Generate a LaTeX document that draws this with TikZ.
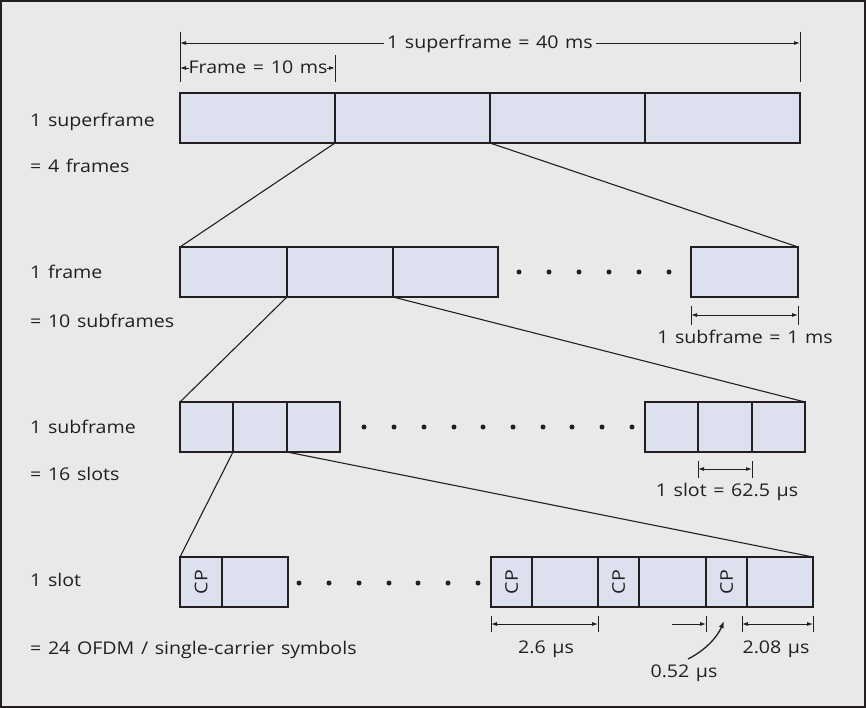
\documentclass[tikz,border=0pt]{standalone}
\usepackage{fontspec}
\setmainfont{Open Sans}[FakeStretch=1.12, WordSpace=1.3]
\usetikzlibrary{arrows.meta}
\definecolor{bgc}{HTML}{E9E9E9}
\definecolor{boxc}{HTML}{DDE1EF}
\definecolor{inkc}{HTML}{231F20}
\tikzset{
  box/.style={draw=inkc, fill=boxc, line width=1.3pt, inner sep=0pt, outer sep=0pt,
              anchor=north west, minimum height=50pt},
  lbl/.style={anchor=base west, inner sep=0pt, text=inkc, font=\fontsize{17.5}{20}\selectfont},
  ctxt/.style={anchor=base, inner sep=0pt, text=inkc, font=\fontsize{17.5}{20}\selectfont},
  conn/.style={draw=inkc, line width=1.1pt},
  tick/.style={draw=inkc, line width=0.9pt},
  dim/.style={draw=inkc, line width=0.9pt, {Latex[length=6pt,width=4pt]}-{Latex[length=6pt,width=4pt]}},
  dotc/.style={circle, fill=inkc, inner sep=0pt, minimum size=5pt},
  cpt/.style={rotate=90, inner sep=0pt, text=inkc, font=\fontsize{17.5}{20}\selectfont}
}
\begin{document}
\begin{tikzpicture}[x=1pt, y=-1pt]
\fill[bgc] (0,0) rectangle (866,708);
\draw[inkc, line width=2pt] (1,1) rectangle (865,707);
\useasboundingbox (0,0) rectangle (866,708);

% ---------- row 1: superframe ----------
\node[box, minimum width=155pt] (s1) at (180,93) {};
\node[box, minimum width=155pt] (s2) at (335,93) {};
\node[box, minimum width=155pt] (s3) at (490,93) {};
\node[box, minimum width=155pt] (s4) at (645,93) {};

\coordinate (t1a) at (180,32); \coordinate (t1b) at (180,82);
\coordinate (t2a) at (800,32); \coordinate (t2b) at (800,82);
\coordinate (t3a) at (335,55); \coordinate (t3b) at (335,82);
\draw[tick] (t1a) -- (t1b);
\draw[tick] (t2a) -- (t2b);
\draw[tick] (t3a) -- (t3b);
\coordinate (sfL) at (180,43); \coordinate (sfR) at (800,43);
\draw[dim] (sfL) -- (sfR);
\node[ctxt, fill=bgc, inner xsep=3pt, inner ysep=2pt] (sftxt) at (490,49) {1 superframe = 40 ms};
\coordinate (frL) at (180,68); \coordinate (frR) at (335,68);
\draw[dim] (frL) -- (frR);
\node[ctxt, fill=bgc, inner ysep=2pt] (frtxt) at (258,74) {Frame = 10 ms};

\node[lbl] (l1a) at (30,127) {1 superframe};
\node[lbl] (l1b) at (30,173) {= 4 frames};

% ---------- row 2: frame ----------
\node[box, minimum width=107pt] (f1) at (180,247) {};
\node[box, minimum width=106pt] (f2) at (287,247) {};
\node[box, minimum width=105pt] (f3) at (393,247) {};
\node[box, minimum width=107pt] (f4) at (691,247) {};
\foreach \i/\x in {1/519,2/549,3/579,4/609,5/639,6/669}
  \node[dotc] (fd\i) at (\x,272) {};

\draw[conn] (s1.south east) -- (f1.north west);
\draw[conn] (s2.south east) -- (f4.north east);

\coordinate (t4a) at (691,306); \coordinate (t4b) at (691,325);
\coordinate (t5a) at (798,306); \coordinate (t5b) at (798,325);
\draw[tick] (t4a) -- (t4b);
\draw[tick] (t5a) -- (t5b);
\coordinate (sbL) at (691,315); \coordinate (sbR) at (798,315);
\draw[dim] (sbL) -- (sbR);
\node[ctxt] (sbtxt) at (745,343) {1 subframe = 1 ms};

\node[lbl] (l2a) at (30,278) {1 frame};
\node[lbl] (l2b) at (30,327) {= 10 subframes};

% ---------- row 3: subframe ----------
\node[box, minimum width=53pt] (b1) at (180,402) {};
\node[box, minimum width=54pt] (b2) at (233,402) {};
\node[box, minimum width=53pt] (b3) at (287,402) {};
\node[box, minimum width=53pt] (b4) at (645,402) {};
\node[box, minimum width=54pt] (b5) at (698,402) {};
\node[box, minimum width=53pt] (b6) at (752,402) {};
\foreach \i/\x in {1/364,2/394,3/424,4/454,5/483,6/513,7/543,8/572,9/602,10/632}
  \node[dotc] (bd\i) at (\x,427) {};

\draw[conn] (f2.south west) -- (b1.north west);
\draw[conn] (f3.south west) -- (b6.north east);

\coordinate (t6a) at (698,461); \coordinate (t6b) at (698,478);
\coordinate (t7a) at (752,461); \coordinate (t7b) at (752,478);
\draw[tick] (t6a) -- (t6b);
\draw[tick] (t7a) -- (t7b);
\coordinate (slL) at (698,469); \coordinate (slR) at (752,469);
\draw[dim] (slL) -- (slR);
\node[ctxt] (sltxt) at (727,496) {1 slot = 62.5 µs};

\node[lbl] (l3a) at (30,433) {1 subframe};
\node[lbl] (l3b) at (30,480) {= 16 slots};

% ---------- row 4: slot ----------
\node[box, minimum width=42pt] (c1) at (180,557) {};
\node[box, minimum width=66pt] (d1) at (222,557) {};
\node[box, minimum width=41pt] (c2) at (491,557) {};
\node[box, minimum width=66pt] (d2) at (532,557) {};
\node[box, minimum width=41pt] (c3) at (598,557) {};
\node[box, minimum width=67pt] (d3) at (639,557) {};
\node[box, minimum width=41pt] (c4) at (706,557) {};
\node[box, minimum width=66pt] (d4) at (747,557) {};
\foreach \c in {c1,c2,c3,c4}
  \node[cpt] (\c txt) at (\c.center) {CP};
\foreach \i/\x in {1/299,2/329,3/359,4/389,5/418,6/448,7/478}
  \node[dotc] (cd\i) at (\x,583) {};

\draw[conn] (b1.south east) -- (c1.north west);
\draw[conn] (b2.south east) -- (d4.north east);

% 2.6 us
\coordinate (t8a) at (491,616); \coordinate (t8b) at (491,632);
\coordinate (t9a) at (598,616); \coordinate (t9b) at (598,632);
\draw[tick] (t8a) -- (t8b);
\draw[tick] (t9a) -- (t9b);
\coordinate (aL) at (491,624); \coordinate (aR) at (598,624);
\draw[dim] (aL) -- (aR);
\node[ctxt] (atxt) at (546,653) {2.6 µs};

% 0.52 us
\coordinate (t10a) at (706,616); \coordinate (t10b) at (706,632);
\draw[tick] (t10a) -- (t10b);
\coordinate (bL) at (672,624); \coordinate (bR) at (706,624);
\draw[tick, -{Latex[length=6pt,width=4pt]}] (bL) -- (bR);
\node[ctxt] (btxt) at (684,677) {0.52 µs};
\coordinate (bH) at (724,621);
\draw[conn, line width=1.3pt, -{Latex[length=7pt,width=5pt]}] (688,659) .. controls (704,651) and (717,638) .. (bH);

% 2.08 us
\coordinate (t11a) at (742,616); \coordinate (t11b) at (742,632);
\coordinate (t12a) at (813,616); \coordinate (t12b) at (813,632);
\draw[tick] (t11a) -- (t11b);
\draw[tick] (t12a) -- (t12b);
\coordinate (cL) at (742,624); \coordinate (cR) at (813,624);
\draw[dim] (cL) -- (cR);
\node[ctxt] (ctxt) at (776,653) {2.08 µs};

\node[lbl] (l4a) at (30,586) {1 slot};
\node[lbl] (l4b) at (30,654) {= 24 OFDM / single-carrier symbols};
\end{tikzpicture}
\end{document}
